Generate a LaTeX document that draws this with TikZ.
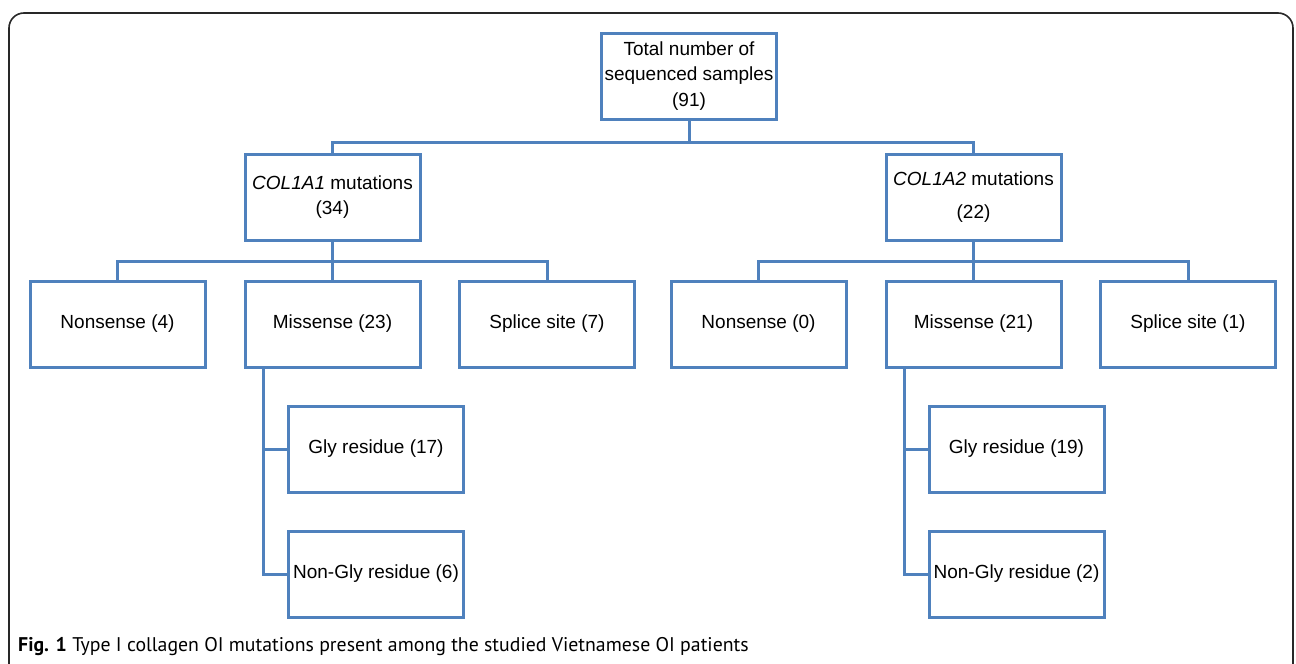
\documentclass[tikz,border=0pt]{standalone}
\usepackage{fontspec}
\setmainfont{Liberation Sans}
\newfontfamily\capfont{PT Sans}
\usepackage{tikz}
\usetikzlibrary{positioning, calc}
\definecolor{boxblue}{RGB}{79,129,189}
\definecolor{framegray}{RGB}{40,40,40}

\begin{document}
\begin{tikzpicture}[x=1pt, y=-1pt]
          \tikzset{ bx/.style  ={draw=boxblue, line width=3pt, outer sep=0pt, minimum width=175pt, minimum height=86pt, align=center, font=\fontsize{19}{25.5}\selectfont} }
          \tikzset{ lnk/.style ={draw=boxblue, line width=3pt} }

          \useasboundingbox (0,0) rectangle (1296,664);
          \draw[framegray, line width=1.6pt, rounded corners=15pt] (9,680) -- (9,13) -- (1293,13) -- (1293,680);

          \node[bx] (tot) at (689, 76) {Total number of\\sequenced samples\\(91)};

          \node[bx] (c1) at (332.5, 197) {\textit{COL1A1} mutations\\(34)};
          \node[bx] (c2) at (973.5, 197) {\textit{COL1A2} mutations\\[8pt](22)};

          \node[bx] (ns1) at (117.5, 324) {Nonsense (4)};
          \node[bx] (ms1) at (332.5, 324) {Missense (23)};
          \node[bx] (sp1) at (547, 324) {Splice site (7)};
          \node[bx] (ns2) at (758.5, 324) {Nonsense (0)};
          \node[bx] (ms2) at (973.5, 324) {Missense (21)};
          \node[bx] (sp2) at (1188, 324) {Splice site (1)};

          \node[bx] (gl1) at (376, 449) {Gly residue (17)};
          \node[bx] (ng1) at (376, 574) {Non-Gly residue (6)};
          \node[bx] (gl2) at (1016.5, 449) {Gly residue (19)};
          \node[bx] (ng2) at (1016.5, 574) {Non-Gly residue (2)};

          \draw[lnk] (tot.south) -- ++(0,23) -| (c1.north);
          \draw[lnk] (tot.south) -- ++(0,23) -| (c2.north);

          \draw[lnk] (c1.south) -- ++(0,21) -| (ns1.north);
          \draw[lnk] (c1.south) -- (ms1.north);
          \draw[lnk] (c1.south) -- ++(0,21) -| (sp1.north);
          \draw[lnk] (c2.south) -- ++(0,21) -| (ns2.north);
          \draw[lnk] (c2.south) -- (ms2.north);
          \draw[lnk] (c2.south) -- ++(0,21) -| (sp2.north);

          \draw[lnk] ([xshift=18pt]ms1.south west) |- (gl1.west);
          \draw[lnk] ([xshift=18pt]ms1.south west) |- (ng1.west);
          \draw[lnk] ([xshift=18pt]ms2.south west) |- (gl2.west);
          \draw[lnk] ([xshift=18pt]ms2.south west) |- (ng2.west);

          \node[anchor=base west, inner sep=0pt, font=\capfont\fontsize{19.8}{24}\selectfont] (cap) at (18, 651) {\textbf{Fig. 1} Type I collagen OI mutations present among the studied Vietnamese OI patients};
\end{tikzpicture}
\end{document}
